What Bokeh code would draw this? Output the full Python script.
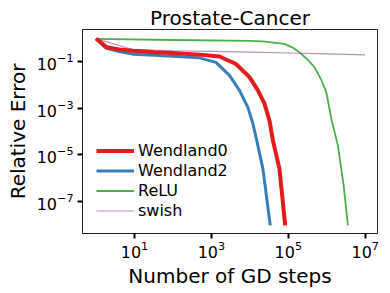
from bokeh.plotting import figure
from bokeh.models import Range1d, FixedTicker, Legend, LegendItem, Title
from bokeh.embed import file_html
from bokeh.resources import INLINE

# ---- data ----
w0_steps = [1, 1.86, 4, 9, 32, 100, 490, 1620, 4370, 9800, 16200, 24000, 32400, 39800, 58900, 83200]
w0_err = [1.0, 0.43, 0.34, 0.30, 0.26, 0.24, 0.204, 0.17, 0.081, 0.022, 0.0059, 0.0016, 3.0e-4, 4.2e-5, 2.5e-6, 9.3e-9]

w2_steps = [1, 1.86, 4, 9, 32, 100, 490, 1320, 2950, 5370, 8900, 12000, 15100, 21900, 33900]
w2_err = [1.0, 0.38, 0.275, 0.214, 0.19, 0.174, 0.148, 0.095, 0.026, 0.0059, 0.0011, 2.2e-4, 4.2e-5, 2.5e-6, 9.3e-9]

relu_steps = [1, 100, 10000, 21400, 79000, 126000, 195000, 316000, 479000, 708000, 977000, 1.32e6, 1.95e6, 2.75e6, 3.55e6]
relu_err = [0.98, 0.87, 0.79, 0.76, 0.59, 0.42, 0.257, 0.126, 0.059, 0.0178, 0.0049, 3.5e-4, 2.5e-5, 4.9e-7, 9.3e-9]

swish_steps = [1, 9, 100, 1000, 1e4, 1e5, 1e6, 1e7]
swish_err = [1.0, 0.34, 0.30, 0.28, 0.26, 0.24, 0.22, 0.20]

x_ticks = [10, 1e3, 1e5, 1e7]
y_ticks = [1e-1, 1e-3, 1e-5, 1e-7]

FONT = "DejaVu Sans"

p = figure(frame_width=295, frame_height=204, x_axis_type="log", y_axis_type="log",
           x_range=Range1d(10 ** -0.352, 10 ** 7.32),
           y_range=Range1d(10 ** -8.38, 10 ** 0.39),
           output_backend="svg", toolbar_location=None,
           min_border_left=82, min_border_right=4, min_border_top=29, min_border_bottom=52)

p.title = Title(text="Prostate-Cancer", align="center", text_font=FONT,
                text_font_size="20px", text_font_style="normal", text_color="black",
                standoff=0, offset=0)

p.xgrid.grid_line_color = None
p.ygrid.grid_line_color = None
p.outline_line_color = "#222222"
p.outline_line_width = 1
p.outline_line_alpha = 1

for ax in (p.xaxis[0], p.yaxis[0]):
    ax.axis_line_color = "#222222"
    ax.major_tick_line_color = "black"
    ax.major_tick_line_width = 2
    ax.major_tick_out = 5
    ax.major_tick_in = 0
    ax.minor_tick_line_color = None
    ax.major_label_text_font = FONT
    ax.major_label_text_font_size = "16px"
    ax.major_label_text_color = "black"
    ax.axis_label_text_font = FONT
    ax.axis_label_text_font_size = "20px"
    ax.axis_label_text_font_style = "normal"
    ax.axis_label_text_color = "black"

p.xaxis.major_label_standoff = 2
p.xaxis.axis_label_standoff = 3
p.yaxis.major_label_standoff = 4
p.yaxis.axis_label_standoff = 4

p.xaxis.ticker = FixedTicker(ticks=x_ticks, minor_ticks=[])
p.yaxis.ticker = FixedTicker(ticks=y_ticks, minor_ticks=[])
p.xaxis.axis_label = "Number of GD steps"
p.yaxis.axis_label = "Relative Error"

r_relu = p.line(relu_steps, relu_err, line_color="#4daf4a", line_width=1.8)
r_swish = p.line(swish_steps, swish_err, line_color="#984ea3", line_width=1.2, line_alpha=0.65)
r_w2 = p.line(w2_steps, w2_err, line_color="#377eb8", line_width=3)
r_w0 = p.line(w0_steps, w0_err, line_color="#e41a1c", line_width=4)

legend = Legend(items=[
    LegendItem(label="Wendland0", renderers=[r_w0]),
    LegendItem(label="Wendland2", renderers=[r_w2]),
    LegendItem(label="ReLU", renderers=[r_relu]),
    LegendItem(label="swish", renderers=[r_swish]),
], location=(14, 13), orientation="vertical")
legend.background_fill_alpha = 0
legend.border_line_color = None
legend.padding = 0
legend.margin = 0
legend.spacing = 1
legend.glyph_width = 38
legend.glyph_height = 19
legend.label_height = 19
legend.label_standoff = 4
legend.label_text_font = FONT
legend.label_text_font_size = "16px"
legend.label_text_color = "black"
p.add_layout(legend, "center")

open("out.html", "w").write(file_html(p, INLINE))
